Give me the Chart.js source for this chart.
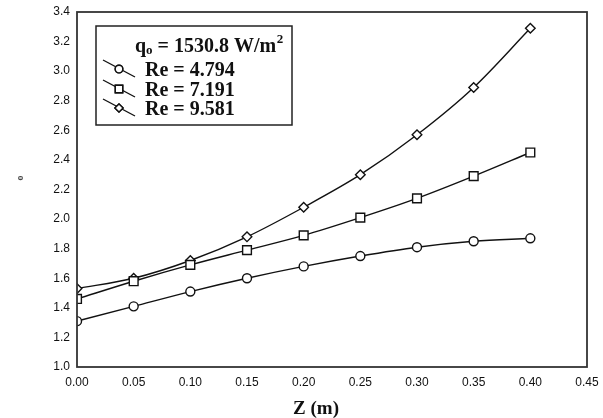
<!DOCTYPE html>
<html>
<head>
<meta charset="utf-8">
<script src="https://cdn.jsdelivr.net/npm/chart.js@4/dist/chart.umd.min.js"></script>
<style>
  html, body { margin: 0; padding: 0; background: #fff; }
  #wrap { width: 603px; height: 418px; }
</style>
</head>
<body>
<div id="wrap"><canvas id="chart"></canvas></div>
<script>
// axial position Z (m)
const zValues = [0.00, 0.05, 0.10, 0.15, 0.20, 0.25, 0.30, 0.35, 0.40];

// one curve per Reynolds number
const re4794 = [1.31, 1.41, 1.51, 1.60, 1.68, 1.75, 1.81, 1.85, 1.87];
const re7191 = [1.46, 1.58, 1.69, 1.79, 1.89, 2.01, 2.14, 2.29, 2.45];
const re9581 = [1.53, 1.60, 1.72, 1.88, 2.08, 2.30, 2.57, 2.89, 3.29];

const seriesLabels = ['Re = 4.794', 'Re = 7.191', 'Re = 9.581'];
const markerStyles = ['circle', 'rect', 'rectRot'];
const markerSizes = [4.5, 6.2, 4.8];

const fluxText = ['q', 'o', ' = 1530.8 W/m', '2'];
const xTitle = 'Z (m)';
const yTitle = 'o';

const xTicks = { min: 0, max: 0.45, step: 0.05 };
const yTicks = { min: 1.0, max: 3.4, step: 0.2 };

const ink = '#111';
const serif = '"Liberation Serif", "Times New Roman", serif';
const sans = '"Liberation Sans", Arial, sans-serif';

function makeSet(i, values) {
  return {
    label: seriesLabels[i],
    data: zValues.map((z, k) => ({ x: z, y: values[k] })),
    borderColor: ink,
    borderWidth: 1.4,
    pointStyle: markerStyles[i],
    pointRadius: markerSizes[i],
    pointBorderWidth: 1.4,
    pointBorderColor: ink,
    pointBackgroundColor: '#fff',
    cubicInterpolationMode: 'monotone',
    fill: false
  };
}

// frame around plot, boxed legend and axis titles
const decorations = {
  id: 'decorations',
  afterDraw(chart) {
    const { ctx, chartArea: a } = chart;
    ctx.save();
    ctx.strokeStyle = '#333';
    ctx.lineWidth = 1.8;
    ctx.strokeRect(a.left, a.top, a.right - a.left, a.bottom - a.top);

    // legend box
    ctx.lineWidth = 1.5;
    ctx.strokeStyle = '#222';
    ctx.fillStyle = '#fff';
    ctx.fillRect(96, 26, 196, 99);
    ctx.strokeRect(96, 26, 196, 99);

    ctx.fillStyle = ink;
    ctx.textBaseline = 'alphabetic';
    ctx.textAlign = 'left';
    let x = 135;
    ctx.font = 'bold 20px ' + serif;
    ctx.fillText(fluxText[0], x, 52);
    x += ctx.measureText(fluxText[0]).width;
    ctx.font = 'bold 13px ' + serif;
    ctx.fillText(fluxText[1], x, 54);
    x += ctx.measureText(fluxText[1]).width;
    ctx.font = 'bold 20px ' + serif;
    ctx.fillText(fluxText[2], x, 52);
    x += ctx.measureText(fluxText[2]).width;
    ctx.font = 'bold 13px ' + serif;
    ctx.fillText(fluxText[3], x + 0.5, 43);

    const rows = [69, 89, 108];
    chart.data.datasets.forEach((ds, i) => {
      const cy = rows[i];
      ctx.strokeStyle = ink;
      ctx.lineWidth = 1.4;
      ctx.beginPath();
      ctx.moveTo(103, cy - 9);
      ctx.lineTo(135, cy + 8);
      ctx.stroke();
      ctx.fillStyle = '#fff';
      Chart.helpers.drawPoint(ctx, {
        pointStyle: ds.pointStyle,
        radius: ds.pointRadius * 0.85,
        borderWidth: 1.4,
        rotation: 0
      }, 119, cy);
      ctx.fill();
      ctx.stroke();
      ctx.fillStyle = ink;
      ctx.font = 'bold 20px ' + serif;
      ctx.fillText(ds.label, 145, cy + 7);
    });

    // x axis title
    ctx.font = 'bold 19px ' + serif;
    ctx.textAlign = 'center';
    ctx.fillText(xTitle, 316, 414);

    // y axis title
    ctx.translate(20, 178);
    ctx.rotate(-Math.PI / 2);
    ctx.font = 'bold 10px ' + serif;
    ctx.fillStyle = '#444';
    ctx.fillText(yTitle, 0, 3);
    ctx.restore();
  }
};

new Chart(document.getElementById('chart'), {
  type: 'line',
  data: {
    datasets: [makeSet(0, re4794), makeSet(1, re7191), makeSet(2, re9581)]
  },
  options: {
    responsive: true,
    maintainAspectRatio: false,
    animation: false,
    layout: { padding: { top: 12, right: 16, bottom: 0, left: 0 } },
    plugins: {
      legend: { display: false },
      tooltip: { enabled: false }
    },
    scales: {
      x: {
        type: 'linear',
        min: xTicks.min,
        max: xTicks.max,
        grid: { display: false, drawTicks: false },
        border: { display: false },
        afterFit: s => { s.height = 51; s.paddingLeft = 0; s.paddingRight = 0; },
        ticks: {
          stepSize: xTicks.step,
          padding: 8,
          color: '#111',
          font: { family: sans, size: 12 },
          callback: v => Number(v).toFixed(2)
        }
      },
      y: {
        min: yTicks.min,
        max: yTicks.max,
        grid: { display: false, drawTicks: false },
        border: { display: false },
        afterFit: s => { s.width = 77; s.paddingTop = 0; s.paddingBottom = 0; },
        ticks: {
          stepSize: yTicks.step,
          padding: 7,
          color: '#111',
          font: { family: sans, size: 12 },
          callback: v => Number(v).toFixed(1)
        }
      }
    }
  },
  plugins: [decorations]
});
</script>
</body>
</html>
